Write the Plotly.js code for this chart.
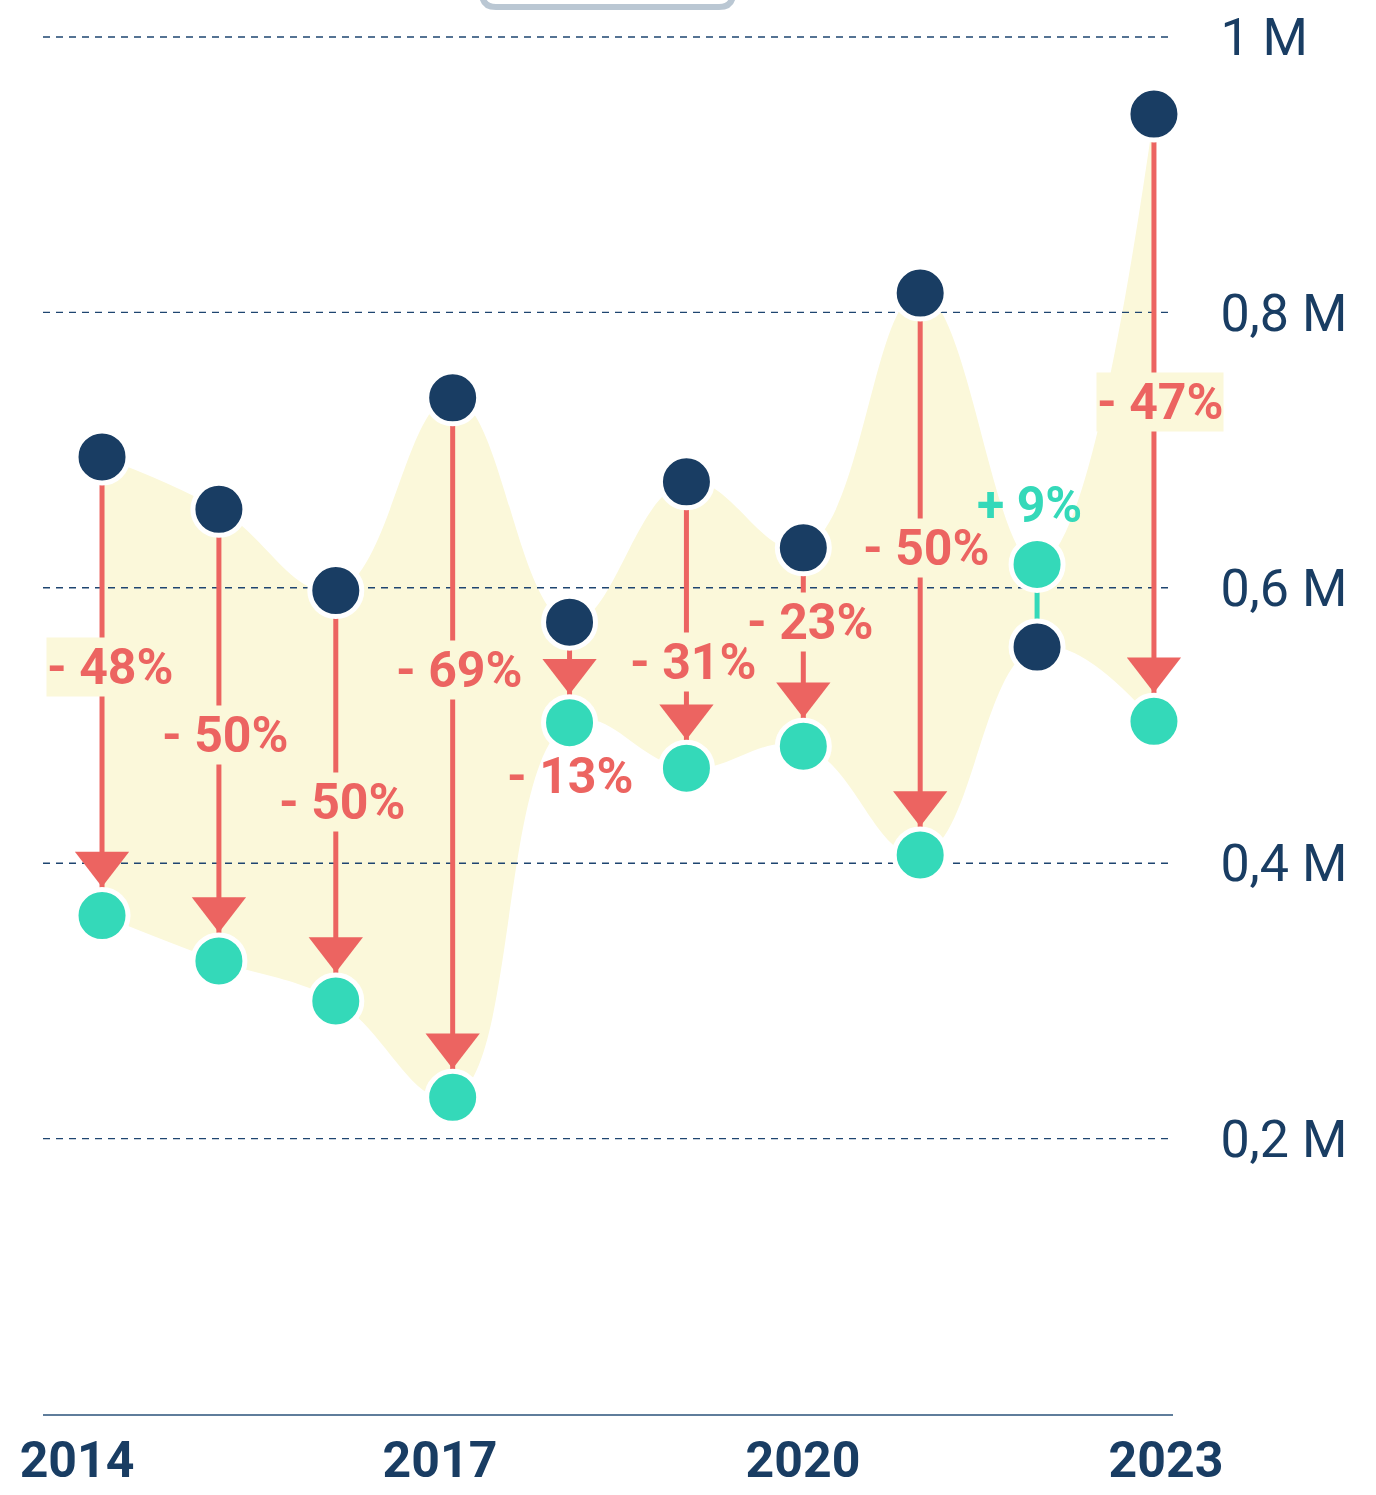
<!DOCTYPE html>
<html><head><meta charset="utf-8">
<script src="https://cdn.plot.ly/plotly-3.0.1.min.js"></script>
<style>html,body{margin:0;padding:0;background:#fff}#chart{width:1376px;height:1495px}</style>
</head><body><div id="chart"></div>
<script>
// ---- data ----
const years = [2014, 2015, 2016, 2017, 2018, 2019, 2020, 2021, 2022, 2023];
const before = [0.695, 0.657, 0.598, 0.738, 0.575, 0.677, 0.629, 0.814, 0.557, 0.944];
const after  = [0.362, 0.329, 0.300, 0.230, 0.502, 0.469, 0.485, 0.406, 0.617, 0.503];
const changeLabels = ['- 48%', '- 50%', '- 50%', '- 69%', '- 13%', '- 31%', '- 23%', '- 50%', '+ 9%', '- 47%'];
const yTickVals = [0.2, 0.4, 0.6, 0.8, 1];
const yTickText = ['0,2 M', '0,4 M', '0,6 M', '0,8 M', '1 M'];
const xTickVals = [2014, 2017, 2020, 2023];
const xTickText = ['2014', '2017', '2020', '2023'];

// ---- label layout (positions, not data) ----
const labelY     = [0.5425, 0.4931, 0.4444, 0.5403, 0.4633, 0.5461, 0.5752, 0.6289, 0.6601, 0.7349];
const labelShift = [8, 6, 6, 6, 0, 7, 7, 6, -8, 6];
const labelBox   = [true, true, true, true, false, true, true, true, false, true];

// ---- style ----
const NAVY = '#193D63', GREEN = '#34D9B9', RED = '#EC6461', YEL = '#FBF8DA', GRID = '#1E4570';
const W = 1376, H = 1495, M = {l: 43, r: 203, t: 10, b: 81};
const xRange = [2013.495, 2023.163];
const yRange = [0, 1.0196];
const xRange2 = [2013.719, 2023.058];
const plotH = H - M.t - M.b, plotW = W - M.l - M.r;
const ppu = plotH / (yRange[1] - yRange[0]);
const headOff = 52 / ppu;

const upper = years.map((_, i) => Math.max(before[i], after[i]));
const lower = years.map((_, i) => Math.min(before[i], after[i]));

const traces = [];
traces.push({x: years, y: upper, mode: 'lines', line: {width: 0, shape: 'spline', smoothing: 1.2}, hoverinfo: 'skip', showlegend: false});
traces.push({x: years, y: lower, mode: 'lines', line: {width: 0, shape: 'spline', smoothing: 1.2}, fill: 'tonexty', fillcolor: YEL, hoverinfo: 'skip', showlegend: false});

// grid lines
const gx = [], gy = [];
yTickVals.forEach(v => { gx.push(xRange[0], xRange[1], null); gy.push(v, v, null); });
traces.push({x: gx, y: gy, mode: 'lines', line: {color: GRID, width: 1.4, dash: '7px,6px'}, hoverinfo: 'skip', showlegend: false, cliponaxis: false});

// connectors
const dx = [], dy = [], ix = [], iy = [];
years.forEach((yr, i) => {
  if (after[i] < before[i]) { dx.push(yr, yr, null); dy.push(before[i], after[i], null); }
  else { ix.push(yr, yr, null); iy.push(before[i], after[i], null); }
});
traces.push({x: dx, y: dy, mode: 'lines', line: {color: RED, width: 5}, hoverinfo: 'skip', showlegend: false});
traces.push({x: ix, y: iy, mode: 'lines', line: {color: GREEN, width: 5}, hoverinfo: 'skip', showlegend: false});

// arrow heads
const hx = [], hy = [];
years.forEach((yr, i) => { if (after[i] < before[i]) { hx.push(yr); hy.push(after[i] + headOff); } });
traces.push({x: hx, y: hy, mode: 'markers', marker: {symbol: 'triangle-down', size: 47, color: RED, line: {width: 0}}, hoverinfo: 'skip', showlegend: false, cliponaxis: false});

// dots
traces.push({x: years, y: before, mode: 'markers', marker: {size: 52, color: NAVY, line: {color: '#fff', width: 5}}, showlegend: false, cliponaxis: false});
traces.push({x: years, y: after, mode: 'markers', marker: {size: 52, color: GREEN, line: {color: '#fff', width: 5}}, showlegend: false, cliponaxis: false});

// invisible trace for second x axis
traces.push({x: xTickVals, y: xTickVals.map(() => 0), xaxis: 'x2', yaxis: 'y', mode: 'markers', marker: {size: 1, opacity: 0}, hoverinfo: 'skip', showlegend: false});

const annotations = years.map((yr, i) => ({
  x: yr, y: labelY[i], xref: 'x', yref: 'y', xshift: labelShift[i],
  text: changeLabels[i], showarrow: false,
  font: {family: 'Roboto', size: 50, weight: 700, color: after[i] < before[i] ? RED : GREEN},
  bgcolor: labelBox[i] ? YEL : 'rgba(0,0,0,0)', borderpad: 0
}));

// top decorative tab
const px = v => (v - M.l) / plotW;
const py = v => (H - M.b - v) / plotH;
const r = 14;
const tabPath = 'M ' + px(482) + ',' + py(-30) + ' L ' + px(482) + ',' + py(7 - r) +
  ' Q ' + px(482) + ',' + py(7) + ' ' + px(482 + r) + ',' + py(7) +
  ' L ' + px(733 - r) + ',' + py(7) +
  ' Q ' + px(733) + ',' + py(7) + ' ' + px(733) + ',' + py(7 - r) +
  ' L ' + px(733) + ',' + py(-30);

const layout = {
  width: W, height: H, margin: M,
  paper_bgcolor: '#fff', plot_bgcolor: 'rgba(0,0,0,0)',
  showlegend: false,
  xaxis: {range: xRange, showgrid: false, zeroline: false, showticklabels: false, ticks: '',
          showline: true, linecolor: '#5F7D9B', linewidth: 2},
  xaxis2: {range: xRange2, overlaying: 'x', side: 'bottom', anchor: 'y', showgrid: false, zeroline: false,
           tickvals: xTickVals, ticktext: xTickText, ticks: 'outside', ticklen: 2, tickcolor: 'rgba(0,0,0,0)',
           tickfont: {family: 'Roboto', size: 50, weight: 700, color: NAVY}},
  yaxis: {range: yRange, side: 'right', showgrid: false, zeroline: false,
          tickvals: yTickVals, ticktext: yTickText, ticks: 'outside', ticklen: 36, tickcolor: 'rgba(0,0,0,0)',
          tickfont: {family: 'Roboto', size: 52, color: NAVY}},
  annotations: annotations,
  shapes: [{type: 'path', xref: 'paper', yref: 'paper', path: tabPath, line: {color: '#BAC7D3', width: 6}, fillcolor: 'rgba(0,0,0,0)'}]
};

Plotly.newPlot('chart', traces, layout, {displayModeBar: false, staticPlot: true});
</script>
</body></html>
